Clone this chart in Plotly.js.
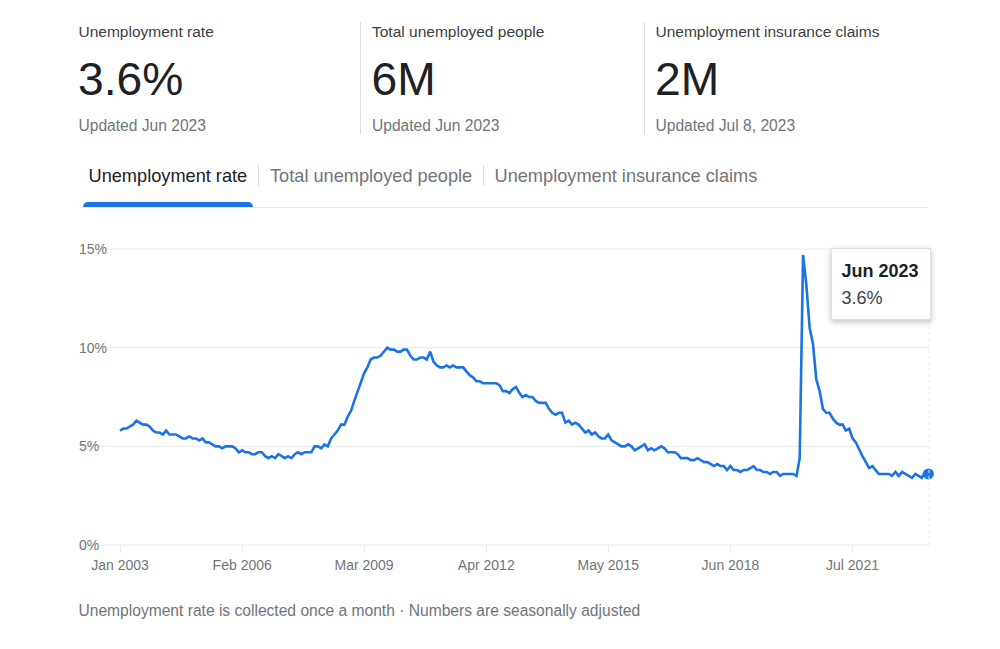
<!DOCTYPE html>
<html><head><meta charset="utf-8">
<script src="https://cdn.plot.ly/plotly-3.0.1.min.js"></script>
<style>
html,body{margin:0;padding:0;background:#fff;width:1000px;height:649px;overflow:hidden;font-family:"Liberation Sans",Arial,sans-serif}
.t{position:absolute;white-space:nowrap;line-height:1}
.b{position:absolute}
#chart{position:absolute;left:0;top:0;width:1000px;height:649px}
</style></head><body>
<div id="chart"></div>
<div id="ui"></div>
<script>
const values2003 = [5.8,5.9,5.9,6.0,6.1,6.3,6.2,6.1,6.1,6.0,5.8,5.7];
const values2004 = [5.7,5.6,5.8,5.6,5.6,5.6,5.5,5.4,5.4,5.5,5.4,5.4];
const values2005 = [5.3,5.4,5.2,5.2,5.1,5.0,5.0,4.9,5.0,5.0,5.0,4.9];
const values2006 = [4.7,4.8,4.7,4.7,4.6,4.6,4.7,4.7,4.5,4.4,4.5,4.4];
const values2007 = [4.6,4.5,4.4,4.5,4.4,4.6,4.7,4.6,4.7,4.7,4.7,5.0];
const values2008 = [5.0,4.9,5.1,5.0,5.4,5.6,5.8,6.1,6.1,6.5,6.8,7.3];
const values2009 = [7.8,8.3,8.7,9.0,9.4,9.5,9.5,9.6,9.8,10.0,9.9,9.9];
const values2010 = [9.8,9.8,9.9,9.9,9.6,9.4,9.4,9.5,9.5,9.4,9.8,9.3];
const values2011 = [9.1,9.0,9.0,9.1,9.0,9.1,9.0,9.0,9.0,8.8,8.6,8.5];
const values2012 = [8.3,8.3,8.2,8.2,8.2,8.2,8.2,8.1,7.8,7.8,7.7,7.9];
const values2013 = [8.0,7.7,7.5,7.6,7.5,7.5,7.3,7.2,7.2,7.2,6.9,6.7];
const values2014 = [6.6,6.7,6.7,6.2,6.3,6.1,6.2,6.1,5.9,5.7,5.8,5.6];
const values2015 = [5.7,5.5,5.4,5.4,5.6,5.3,5.2,5.1,5.0,5.0,5.1,5.0];
const values2016 = [4.8,4.9,5.0,5.1,4.8,4.9,4.8,4.9,5.0,4.9,4.7,4.7];
const values2017 = [4.7,4.6,4.4,4.4,4.4,4.3,4.3,4.4,4.3,4.2,4.2,4.1];
const values2018 = [4.0,4.1,4.0,4.0,3.8,4.0,3.8,3.8,3.7,3.8,3.8,3.9];
const values2019 = [4.0,3.8,3.8,3.7,3.7,3.6,3.7,3.7,3.5,3.6,3.6,3.6];
const values2020 = [3.6,3.5,4.4,14.7,13.2,11.0,10.2,8.4,7.8,6.9,6.7,6.7];
const values2021 = [6.4,6.2,6.1,6.1,5.8,5.9,5.4,5.2,4.8,4.5,4.2,3.9];
const values2022 = [4.0,3.8,3.6,3.6,3.6,3.6,3.5,3.7,3.5,3.7,3.6,3.5];
const values2023 = [3.4,3.6,3.5,3.4,3.7,3.6];
const rates = [].concat(values2003,values2004,values2005,values2006,values2007,values2008,values2009,values2010,values2011,values2012,values2013,values2014,values2015,values2016,values2017,values2018,values2019,values2020,values2021,values2022,values2023);
const months = rates.map((_,i)=>{const y=2003+Math.floor(i/12),m=i%12+1;return y+'-'+String(m).padStart(2,'0')+'-01';});
const xTickVals = ['2003-01-01','2006-02-01','2009-03-01','2012-04-01','2015-05-01','2018-06-01','2021-07-01'];
const xTickText = ['Jan 2003','Feb 2006','Mar 2009','Apr 2012','May 2015','Jun 2018','Jul 2021'];
const yTickVals = [0,5,10,15];
const yTickText = ['0%','5%','10%','15%'];
const gridStart = [98,98,106,106];
const lastMonth = months[months.length-1], lastRate = rates[rates.length-1];

const BLUE='#1a73e8', GRID='#e8eaed', TICK='#70757a';
const L=76,R=929,T=0,ZERO=545,B=558,W=1000,H=649;
const pxPerDay=(852.5-120)/((Date.UTC(2021,6,1)-Date.UTC(2003,0,1))/864e5);
const x0=new Date(Date.UTC(2003,0,1)-(120-L)/pxPerDay*864e5).toISOString();
const x1=new Date(Date.UTC(2003,0,1)+(R-120)/pxPerDay*864e5).toISOString();
const pxPerUnit=(545-249)/15;
const yMax=(ZERO-T)/pxPerUnit, yMin=-(B-ZERO)/pxPerUnit;

const shapes = yTickVals.map((v,i)=>({type:'line',layer:'below',xref:'paper',yref:'y',
  x0:(gridStart[i]-L)/(R-L),x1:1,y0:v,y1:v,line:{color:GRID,width:1}}));
shapes.push({type:'line',xref:'paper',yref:'y',x0:1,x1:1,y0:0,y1:(ZERO-319)/pxPerUnit,line:{color:GRID,width:1,dash:'dot'}});

Plotly.newPlot('chart',[
 {type:'scatter',mode:'lines',x:months,y:rates,line:{color:BLUE,width:2.6,shape:'linear'},hoverinfo:'skip',cliponaxis:false},
 {type:'scatter',mode:'markers',x:[lastMonth],y:[lastRate],marker:{color:BLUE,size:11},hoverinfo:'skip',cliponaxis:false}
],{
 width:W,height:H,showlegend:false,paper_bgcolor:'rgba(0,0,0,0)',plot_bgcolor:'rgba(0,0,0,0)',
 margin:{l:L,r:W-R,t:T,b:H-B,pad:0},
 font:{family:'"Liberation Sans",Arial,sans-serif',size:14,color:TICK},
 shapes:shapes,
 xaxis:{type:'date',range:[x0,x1],tickmode:'array',tickvals:xTickVals,ticktext:xTickText,showgrid:false,zeroline:false,showline:false,
   anchor:'free',position:(B-ZERO)/(B-T),
   ticks:'outside',ticklen:7,tickwidth:1,tickcolor:GRID,tickangle:0,tickfont:{size:14,color:TICK},automargin:false,fixedrange:true},
 yaxis:{range:[yMin,yMax],tickmode:'array',tickvals:yTickVals,ticktext:yTickText,showgrid:false,zeroline:false,showline:false,
   ticks:'',ticklabelposition:'inside',tickfont:{size:14,color:TICK},automargin:false,fixedrange:true}
},{displayModeBar:false,staticPlot:true});

const ui=document.getElementById('ui');
function text(s,x,y,size,color,weight){const d=document.createElement('div');d.className='t';d.textContent=s;
 d.style.cssText=`left:${x}px;top:${y}px;font-size:${size}px;color:${color};font-weight:${weight||400}`;ui.appendChild(d);}
function box(x,y,w,h,css){const d=document.createElement('div');d.className='b';
 d.style.cssText=`left:${x}px;top:${y}px;width:${w}px;height:${h}px;${css}`;ui.appendChild(d);return d;}
const kpis=[[78.5,'Unemployment rate','3.6%','Updated Jun 2023'],[372,'Total unemployed people','6M','Updated Jun 2023'],[655.5,'Unemployment insurance claims','2M','Updated Jul 8, 2023']];
kpis.forEach(k=>{text(k[1],k[0],24,15.5,'#3c4043');text(k[2],k[0]-0.5,56,46.2,'#202124');text(k[3],k[0],118,15.6,'#70757a');});
box(360,22,1,112,'background:#dadce0');box(644,22,1,112,'background:#dadce0');
text('Unemployment rate',88.5,167,18.2,'#202124');
text('Total unemployed people',270,167,18.2,'#70757a');
text('Unemployment insurance claims',494.5,167,18.2,'#70757a');
box(258,165,1,21,'background:#dadce0');box(483,165,1,21,'background:#dadce0');
box(79,207,849,1,'background:#e8eaed');
box(83,202,170,5,'background:#1a73e8;border-radius:5px 5px 0 0');
box(831,248,100,72,'background:#fff;border:1px solid #e0e0e0;box-shadow:0 2px 6px rgba(0,0,0,.25);box-sizing:border-box');
text('Jun 2023',841.5,262,18,'#202124',700);
text(lastRate.toFixed(1)+'%',841.5,289,18,'#3c4043');
text('Unemployment rate is collected once a month · Numbers are seasonally adjusted',78.5,603,15.6,'#70757a');
</script>
</body></html>
